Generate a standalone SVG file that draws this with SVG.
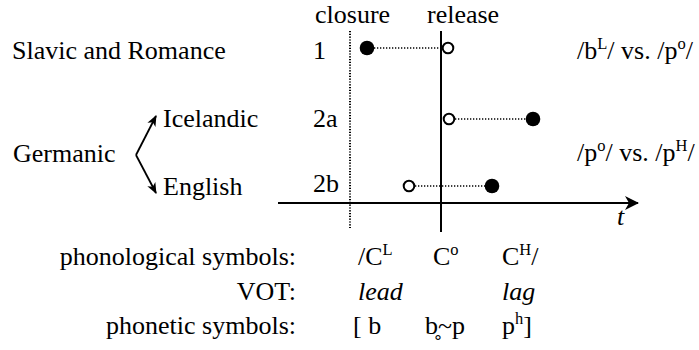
<svg xmlns="http://www.w3.org/2000/svg" width="699" height="350" viewBox="0 0 699 350" font-family="'Liberation Serif', 'DejaVu Serif', serif">
  <defs>
    <style>
      text { font-family: 'Liberation Serif', 'DejaVu Serif', serif; font-size: 26px; fill: #000; }
      .it { font-style: italic; }
      .sup { font-size: 16.5px; }
      .end { text-anchor: end; }
      .axis { stroke: #000; stroke-width: 2; fill: none; }
      .guide { stroke: #000; stroke-width: 2; stroke-dasharray: 1.2 1.6; fill: none; }
      .span { stroke: #000; stroke-width: 1.3; stroke-dasharray: 1.3 1.7; fill: none; }
      .branch { stroke: #000; stroke-width: 1.8; fill: none; }
      .open { fill: #fff; stroke: #000; stroke-width: 2; }
      .closed { fill: #000; }
    </style>
    <marker id="axisHead" viewBox="0 0 14 14" refX="13" refY="7" markerWidth="14" markerHeight="14" markerUnits="userSpaceOnUse" orient="auto">
      <path d="M0,0 L14,7 L0,14 L4,7 Z" fill="#000"/>
    </marker>
    <marker id="branchHead" viewBox="0 0 11 10" refX="10" refY="5" markerWidth="11" markerHeight="10" markerUnits="userSpaceOnUse" orient="auto">
      <path d="M0,0.5 L11,5 L0,9.5 L3,5 Z" fill="#000"/>
    </marker>
  </defs>

  <!-- time axis and the two reference lines -->
  <g id="axes">
    <line class="guide" x1="350" y1="31" x2="350" y2="228"/>
    <line class="axis" x1="441" y1="31" x2="441" y2="232"/>
    <line class="axis" x1="278" y1="203" x2="638" y2="203" marker-end="url(#axisHead)"/>
    <text x="315" y="23">closure</text>
    <text x="427" y="23">release</text>
    <text class="it" x="617" y="225">t</text>
  </g>

  <!-- language labels -->
  <g id="slavic">
    <text x="12" y="59">Slavic and Romance</text>
  </g>
  <g id="germanic">
    <text x="13" y="162">Germanic</text>
  </g>
  <g id="icelandic">
    <text x="163" y="127">Icelandic</text>
  </g>
  <g id="english">
    <text x="163" y="195">English</text>
  </g>

  <!-- branching arrows from Germanic -->
  <g id="connectors">
    <line class="branch" x1="136" y1="155" x2="156" y2="116" marker-end="url(#branchHead)"/>
    <line class="branch" x1="136" y1="155" x2="156" y2="193" marker-end="url(#branchHead)"/>
  </g>

  <!-- row 1 -->
  <g id="row1">
    <text x="313" y="59">1</text>
    <line class="span" x1="368" y1="48" x2="442" y2="48"/>
    <circle class="closed" cx="367" cy="48" r="7.3"/>
    <circle class="open" cx="448" cy="48" r="5.3"/>
  </g>

  <!-- row 2a -->
  <g id="row2a">
    <text x="313" y="127">2a</text>
    <line class="span" x1="455" y1="119" x2="532" y2="119"/>
    <circle class="open" cx="449" cy="119" r="5.3"/>
    <circle class="closed" cx="533" cy="119" r="7.3"/>
  </g>

  <!-- row 2b -->
  <g id="row2b">
    <text x="313" y="192">2b</text>
    <line class="span" x1="415" y1="186" x2="491" y2="186"/>
    <circle class="open" cx="409" cy="186" r="5.3"/>
    <circle class="closed" cx="492" cy="186" r="7.3"/>
  </g>

  <!-- contrasts -->
  <g id="contrast1">
    <text x="577" y="59">/b<tspan class="sup" dy="-10">L</tspan><tspan dy="10">/ vs. /p</tspan><tspan class="sup" dy="-10">o</tspan><tspan dy="10">/</tspan></text>
  </g>
  <g id="contrast2">
    <text x="577" y="161">/p<tspan class="sup" dy="-10">o</tspan><tspan dy="10">/ vs. /p</tspan><tspan class="sup" dy="-10">H</tspan><tspan dy="10">/</tspan></text>
  </g>

  <!-- legend rows -->
  <g id="phonological">
    <text class="end" x="296" y="265">phonological symbols:</text>
    <text x="358" y="265">/C<tspan class="sup" dy="-10">L</tspan></text>
    <text x="433" y="265">C<tspan class="sup" dy="-10">o</tspan></text>
    <text x="502" y="265">C<tspan class="sup" dy="-10">H</tspan><tspan dy="10">/</tspan></text>
  </g>
  <g id="vot">
    <text class="end" x="296" y="300">VOT:</text>
    <text class="it" x="358" y="300">lead</text>
    <text class="it" x="502" y="300">lag</text>
  </g>
  <g id="phonetic">
    <text class="end" x="296" y="334">phonetic symbols:</text>
    <text x="353" y="334">[ b</text>
    <text x="425" y="334">b̥~p</text>
    <text x="502" y="334">p<tspan class="sup" dy="-10">h</tspan><tspan dy="10">]</tspan></text>
  </g>
</svg>
